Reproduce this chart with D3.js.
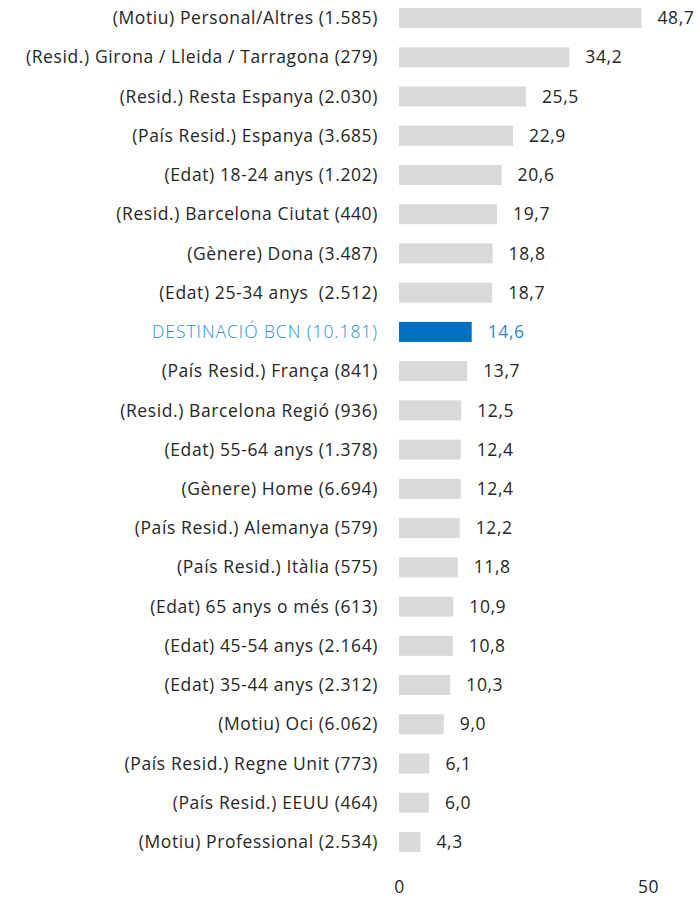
<!DOCTYPE html>
<html>
<head>
<meta charset="utf-8">
<script src="https://cdn.jsdelivr.net/npm/d3@7"></script>
<style>
  body { margin: 0; background: #fff; }
  text { font-family: "Open Sans", sans-serif; white-space: pre; letter-spacing: 0.6px; }
</style>
</head>
<body>
<div id="chart"></div>
<script>
// categories (top to bottom) and their values
const categories = [
  '(Motiu) Personal/Altres (1.585)',
  '(Resid.) Girona / Lleida / Tarragona (279)',
  '(Resid.) Resta Espanya (2.030)',
  '(País Resid.) Espanya (3.685)',
  '(Edat) 18-24 anys (1.202)',
  '(Resid.) Barcelona Ciutat (440)',
  '(Gènere) Dona (3.487)',
  '(Edat) 25-34 anys  (2.512)',
  'DESTINACIÓ BCN (10.181)',
  '(País Resid.) França (841)',
  '(Resid.) Barcelona Regió (936)',
  '(Edat) 55-64 anys (1.378)',
  '(Gènere) Home (6.694)',
  '(País Resid.) Alemanya (579)',
  '(País Resid.) Itàlia (575)',
  '(Edat) 65 anys o més (613)',
  '(Edat) 45-54 anys (2.164)',
  '(Edat) 35-44 anys (2.312)',
  '(Motiu) Oci (6.062)',
  '(País Resid.) Regne Unit (773)',
  '(País Resid.) EEUU (464)',
  '(Motiu) Professional (2.534)'
];
const values = [48.7, 34.2, 25.5, 22.9, 20.6, 19.7, 18.8, 18.7, 14.6, 13.7, 12.5,
  12.4, 12.4, 12.2, 11.8, 10.9, 10.8, 10.3, 9.0, 6.1, 6.0, 4.3];
const highlight = 'DESTINACIÓ BCN (10.181)';
const xTicks = [0, 50];

const width = 700, height = 902;
const data = categories.map((c, i) => ({ cat: c, value: values[i] }));

const svg = d3.select('#chart').append('svg')
  .attr('width', width)
  .attr('height', height);

const x = d3.scaleLinear().domain([0, 50]).range([399, 648]);
const y = d3.scalePoint().domain(categories).range([18, 842]);
const barH = 20;
const fs = 17.5;
const fmt = v => d3.format('.1f')(v).replace('.', ',');

// bars
svg.selectAll('.bar')
  .data(data)
  .enter()
  .append('rect')
    .attr('class', 'bar')
    .attr('x', x(0))
    .attr('y', d => y(d.cat) - barH / 2)
    .attr('width', d => x(d.value) - x(0))
    .attr('height', barH)
    .attr('fill', d => d.cat === highlight ? '#0070C0' : '#D9D9D9');

// category labels
svg.selectAll('.cat-label')
  .data(data)
  .enter()
  .append('text')
    .attr('class', 'cat-label')
    .attr('x', 378)
    .attr('y', d => y(d.cat))
    .attr('dy', '0.35em')
    .attr('text-anchor', 'end')
    .attr('font-size', fs)
    .attr('font-weight', d => d.cat === highlight ? 300 : 400)
    .style('letter-spacing', d => d.cat === highlight ? '0.95px' : null)
    .attr('fill', d => d.cat === highlight ? '#2E8BCB' : '#262626')
    .text(d => d.cat);

// value labels
svg.selectAll('.val-label')
  .data(data)
  .enter()
  .append('text')
    .attr('class', 'val-label')
    .attr('x', d => x(d.value) + 16)
    .attr('y', d => y(d.cat))
    .attr('dy', '0.35em')
    .attr('font-size', fs)
    .attr('fill', d => d.cat === highlight ? '#2E8BCB' : '#262626')
    .text(d => fmt(d.value));

// x axis (labels only)
const xAxis = d3.axisBottom(x).tickValues(xTicks).tickSize(0).tickPadding(0);
const gx = svg.append('g')
  .attr('transform', 'translate(0,881)')
  .call(xAxis);
gx.select('.domain').remove();
gx.selectAll('text')
  .attr('font-size', fs)
  .attr('font-family', '"Open Sans", sans-serif')
  .attr('fill', '#262626');
</script>
</body>
</html>
